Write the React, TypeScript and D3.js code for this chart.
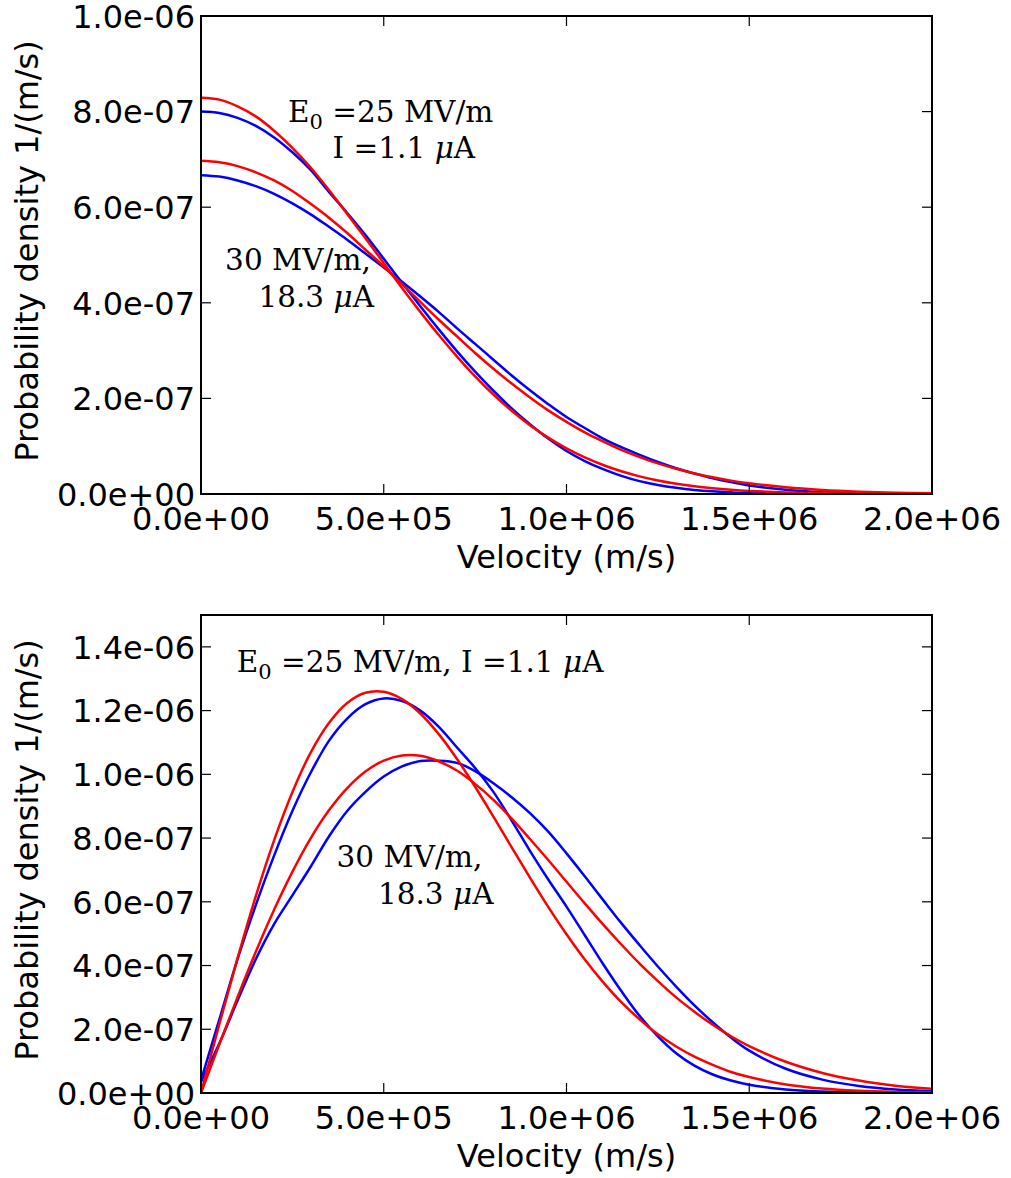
import React from 'react';
import * as d3 from 'd3';

// Velocity grid (m/s)
const velocity = [
  0, 5e4, 1e5, 1.5e5, 2e5, 2.5e5, 3e5, 3.5e5, 4e5, 4.5e5, 5e5, 5.5e5, 6e5, 6.5e5, 7e5, 7.5e5,
  8e5, 8.5e5, 9e5, 9.5e5, 1e6, 1.05e6, 1.1e6, 1.15e6, 1.2e6, 1.25e6, 1.3e6, 1.35e6, 1.4e6,
  1.45e6, 1.5e6, 1.6e6, 1.7e6, 1.8e6, 1.9e6, 2e6,
];

// Densities in units of 1e-7 1/(m/s)
const DENSITY_UNIT = 1e-7;

// Top panel (1D distribution)
const topRed25 = [8.29, 8.25, 8.11, 7.9, 7.6, 7.24, 6.83, 6.36, 5.86, 5.35, 4.83, 4.31, 3.81, 3.33, 2.88, 2.46, 2.08, 1.74, 1.44, 1.18, 0.955, 0.765, 0.606, 0.475, 0.369, 0.283, 0.215, 0.161, 0.12, 0.088, 0.064, 0.033, 0.016, 0.0075, 0.0034, 0.0015];
const topBlue25 = [8.0, 7.97, 7.87, 7.7, 7.46, 7.15, 6.78, 6.32, 5.88, 5.42, 4.92, 4.42, 3.93, 3.45, 2.99, 2.56, 2.16, 1.79, 1.46, 1.16, 0.9, 0.69, 0.52, 0.38, 0.27, 0.19, 0.13, 0.085, 0.055, 0.035, 0.02, 0.008, 0.003, 0.001, 0, 0];
const topRed30 = [6.97, 6.94, 6.86, 6.73, 6.56, 6.34, 6.07, 5.78, 5.46, 5.11, 4.76, 4.39, 4.02, 3.65, 3.3, 2.95, 2.62, 2.31, 2.02, 1.75, 1.51, 1.29, 1.1, 0.923, 0.772, 0.64, 0.527, 0.43, 0.349, 0.28, 0.224, 0.139, 0.084, 0.049, 0.028, 0.015];
const topBlue30 = [6.67, 6.64, 6.56, 6.44, 6.28, 6.08, 5.85, 5.59, 5.32, 5.03, 4.74, 4.44, 4.13, 3.81, 3.47, 3.14, 2.81, 2.48, 2.17, 1.88, 1.61, 1.38, 1.16, 0.98, 0.82, 0.67, 0.54, 0.43, 0.33, 0.25, 0.18, 0.09, 0.04, 0.02, 0.01, 0.004];

// Bottom panel (speed distribution)
const bottomRed25 = [0, 2.15, 4.23, 6.18, 7.93, 9.44, 10.68, 11.61, 12.24, 12.56, 12.59, 12.36, 11.91, 11.27, 10.49, 9.61, 8.67, 7.71, 6.76, 5.84, 4.98, 4.19, 3.48, 2.85, 2.31, 1.84, 1.46, 1.14, 0.88, 0.66, 0.5, 0.27, 0.14, 0.07, 0.034, 0.015];
const bottomBlue25 = [0.4, 2.3, 4.2, 5.9, 7.45, 8.85, 10.05, 11.05, 11.75, 12.2, 12.38, 12.3, 12.0, 11.5, 10.85, 10.2, 9.45, 8.55, 7.6, 6.7, 5.85, 4.95, 4.05, 3.2, 2.42, 1.78, 1.25, 0.86, 0.58, 0.39, 0.26, 0.11, 0.045, 0.018, 0.007, 0.003];
const bottomRed30 = [0, 1.52, 3.01, 4.43, 5.75, 6.94, 7.99, 8.87, 9.57, 10.09, 10.43, 10.59, 10.58, 10.41, 10.12, 9.7, 9.2, 8.61, 7.97, 7.31, 6.63, 5.95, 5.29, 4.66, 4.06, 3.51, 3.0, 2.55, 2.14, 1.78, 1.47, 0.98, 0.63, 0.39, 0.23, 0.135];
const bottomBlue30 = [0.35, 1.55, 2.9, 4.2, 5.3, 6.2, 7.1, 8.05, 8.85, 9.45, 9.93, 10.25, 10.42, 10.43, 10.36, 10.1, 9.72, 9.28, 8.78, 8.2, 7.52, 6.8, 6.06, 5.33, 4.64, 3.97, 3.34, 2.75, 2.22, 1.74, 1.33, 0.76, 0.42, 0.22, 0.11, 0.06];

// Ticks
const xTickValues = [0, 5e5, 1e6, 1.5e6, 2e6];
const xTickLabels = ['0.0e+00', '5.0e+05', '1.0e+06', '1.5e+06', '2.0e+06'];
const yTickValuesTop = [0, 2e-7, 4e-7, 6e-7, 8e-7, 1e-6];
const yTickLabelsTop = ['0.0e+00', '2.0e-07', '4.0e-07', '6.0e-07', '8.0e-07', '1.0e-06'];
const yTickValuesBottom = [0, 2e-7, 4e-7, 6e-7, 8e-7, 1e-6, 1.2e-6, 1.4e-6];
const yTickLabelsBottom = ['0.0e+00', '2.0e-07', '4.0e-07', '6.0e-07', '8.0e-07', '1.0e-06', '1.2e-06', '1.4e-06'];

const xLabel = 'Velocity (m/s)';
const yLabel = 'Probability density 1/(m/s)';

const RED = '#ff0000';
const BLUE = '#0000ff';
const SANS = 'DejaVu Sans, sans-serif';
const SERIF = 'DejaVu Serif, serif';

type Series = { values: number[]; color: string };

function E0Label() {
  return (
    <>
      <tspan>E</tspan>
      <tspan fontSize="21" dy="7">0</tspan>
      <tspan dy="-7">{' =25 MV/m'}</tspan>
    </>
  );
}

function MicroAmp({ value }: { value: string }) {
  return (
    <>
      <tspan>{value + ' '}</tspan>
      <tspan fontStyle="italic">μ</tspan>
      <tspan>A</tspan>
    </>
  );
}

function Panel({
  id,
  top,
  yMax,
  yTicks,
  yLabels,
  series,
  annotations,
}: {
  id: string;
  top: number;
  yMax: number;
  yTicks: number[];
  yLabels: string[];
  series: Series[];
  annotations: (x: d3.ScaleLinear<number, number>, y: d3.ScaleLinear<number, number>) => React.ReactNode;
}) {
  const left = 201;
  const right = 932;
  const bottom = top + 478;
  const x = d3.scaleLinear().domain([0, 2e6]).range([left, right]);
  const y = d3.scaleLinear().domain([0, yMax]).range([bottom, top]);
  const tickLen = 10;

  const line = d3
    .line<number>()
    .x((_, i) => x(velocity[i]))
    .y((d) => y(d * DENSITY_UNIT))
    .curve(d3.curveCatmullRom.alpha(0.5));

  return (
    <g>
      <defs>
        <clipPath id={id}>
          <rect x={left} y={top} width={right - left} height={bottom - top} />
        </clipPath>
      </defs>
      <g clipPath={`url(#${id})`}>
        {series.map((s, i) => (
          <path
            key={i}
            d={line(s.values) || ''}
            fill="none"
            stroke={s.color}
            strokeWidth={2.5}
            strokeLinejoin="round"
          />
        ))}
      </g>
      {annotations(x, y)}
      {xTickValues.map((v, i) => (
        <g key={'xt' + i}>
          <line x1={x(v)} x2={x(v)} y1={bottom} y2={bottom - tickLen} stroke="#000" strokeWidth={1.2} />
          <line x1={x(v)} x2={x(v)} y1={top} y2={top + tickLen} stroke="#000" strokeWidth={1.2} />
          <text x={x(v)} y={bottom + 35.5} textAnchor="middle" fontFamily={SANS} fontSize={32} fill="#000">
            {xTickLabels[i]}
          </text>
        </g>
      ))}
      {yTicks.map((v, i) => (
        <g key={'yt' + i}>
          <line x1={left} x2={left + tickLen} y1={y(v)} y2={y(v)} stroke="#000" strokeWidth={1.2} />
          <line x1={right} x2={right - tickLen} y1={y(v)} y2={y(v)} stroke="#000" strokeWidth={1.2} />
          <text x={195} y={y(v) + 11.7} textAnchor="end" fontFamily={SANS} fontSize={32} fill="#000">
            {yLabels[i]}
          </text>
        </g>
      ))}
      <rect x={left} y={top} width={right - left} height={bottom - top} fill="none" stroke="#000" strokeWidth={2} />
      <text x={(left + right) / 2} y={bottom + 74} textAnchor="middle" fontFamily={SANS} fontSize={32} fill="#000">
        {xLabel}
      </text>
      <text
        transform={`translate(38, ${(top + bottom) / 2 - 4}) rotate(-90)`}
        textAnchor="middle"
        fontFamily={SANS}
        fontSize={32}
        fill="#000"
      >
        {yLabel}
      </text>
    </g>
  );
}

export default function App() {
  const topSeries: Series[] = [
    { values: topBlue25, color: BLUE },
    { values: topBlue30, color: BLUE },
    { values: topRed25, color: RED },
    { values: topRed30, color: RED },
  ];
  const bottomSeries: Series[] = [
    { values: bottomBlue25, color: BLUE },
    { values: bottomBlue30, color: BLUE },
    { values: bottomRed25, color: RED },
    { values: bottomRed30, color: RED },
  ];
  const annStyle = { fontFamily: SERIF, fontSize: 29.5, fill: '#000' } as const;

  return (
    <svg
      width={1011}
      height={1178}
      viewBox="0 0 1011 1178"
      style={{ position: 'absolute', left: 0, top: 0, background: '#fff' }}
    >
      <rect x={0} y={0} width={1011} height={1178} fill="#fff" />
      <Panel
        id="clipTop"
        top={16}
        yMax={1e-6}
        yTicks={yTickValuesTop}
        yLabels={yTickLabelsTop}
        series={topSeries}
        annotations={(x, y) => (
          <g>
            <text x={x(2.38e5)} y={y(7.78e-7)} {...annStyle}>
              <E0Label />
            </text>
            <text x={x(3.6e5)} y={y(7.02e-7)} {...annStyle}>
              <tspan>{'I =1.1 '}</tspan>
              <tspan fontStyle="italic">μ</tspan>
              <tspan>A</tspan>
            </text>
            <text x={x(0.66e5)} y={y(4.69e-7)} {...annStyle}>
              30 MV/m,
            </text>
            <text x={x(1.57e5)} y={y(3.91e-7)} {...annStyle}>
              <MicroAmp value="18.3" />
            </text>
          </g>
        )}
      />
      <Panel
        id="clipBottom"
        top={615}
        yMax={1.5e-6}
        yTicks={yTickValuesBottom}
        yLabels={yTickLabelsBottom}
        series={bottomSeries}
        annotations={(x, y) => (
          <g>
            <text x={x(0.98e5)} y={y(1.321e-6)} {...annStyle}>
              <E0Label />
              <tspan>{', I =1.1 '}</tspan>
              <tspan fontStyle="italic">μ</tspan>
              <tspan>A</tspan>
            </text>
            <text x={x(3.71e5)} y={y(7.1e-7)} {...annStyle}>
              30 MV/m,
            </text>
            <text x={x(4.84e5)} y={y(5.93e-7)} {...annStyle}>
              <MicroAmp value="18.3" />
            </text>
          </g>
        )}
      />
    </svg>
  );
}
